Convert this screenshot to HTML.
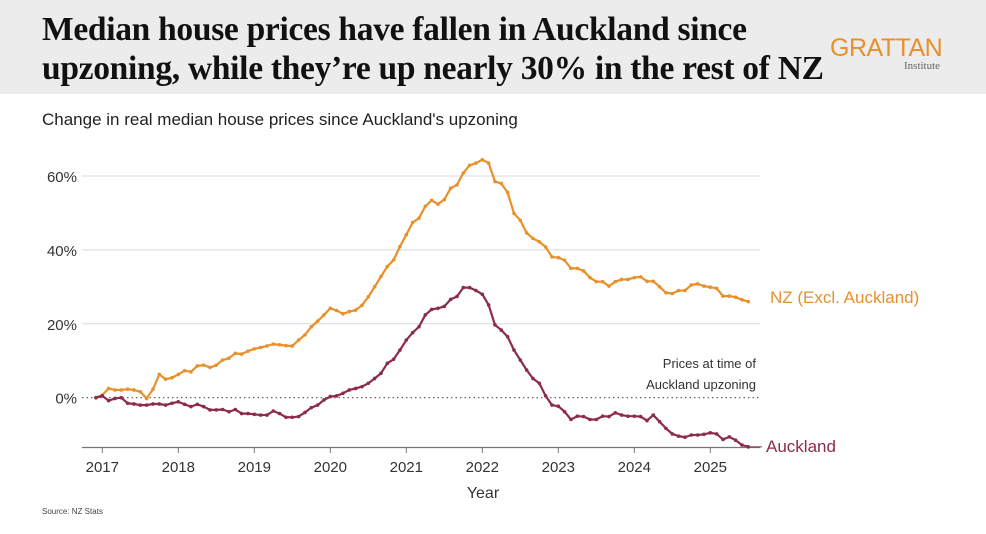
<!DOCTYPE html>
<html><head><meta charset="utf-8"><style>
body{margin:0;width:986px;height:534px;background:#fff;overflow:hidden;font-family:"Liberation Sans",sans-serif}
#hdr{position:absolute;left:0;top:0;width:986px;height:94px;background:#ececec}
#title{position:absolute;left:42px;top:10px;font-family:"Liberation Serif",serif;font-weight:bold;font-size:33.5px;line-height:39px;color:#111;letter-spacing:-0.3px;white-space:nowrap}
#logo{position:absolute;left:830px;top:34px;color:#e8902a;font-size:25px;letter-spacing:-0.5px}
#logo2{position:absolute;left:904px;top:60px;color:#666;font-family:"Liberation Serif",serif;font-size:11px}
#sub{position:absolute;left:42px;top:110px;font-size:17px;color:#222}
</style></head><body>
<div id="hdr"></div>
<div id="title">Median house prices have fallen in Auckland since<br>upzoning, while they’re up nearly 30% in the rest of NZ</div>
<div id="logo">GRATTAN</div>
<div id="logo2">Institute</div>
<div id="sub">Change in real median house prices since Auckland's upzoning</div>
<svg id="c" width="986" height="534" style="position:absolute;left:0;top:0"></svg>
<script>
const years=[2017,2018,2019,2020,2021,2022,2023,2024,2025];
const yTicks=[0,20,40,60];
const startYear=2016+11/12;
const nz=[0,0.7,2.5,2.1,2.1,2.3,2.1,1.6,-0.2,2.3,6.3,5,5.4,6.3,7.3,7,8.6,8.8,8.2,8.8,10.2,10.7,12,11.8,12.6,13.2,13.6,14,14.5,14.3,14.1,14,15.6,17,19.2,20.7,22.4,24.2,23.6,22.7,23.3,23.7,25,27.3,30,32.8,35.5,37.3,40.9,44.1,47.4,48.6,51.8,53.4,52.4,53.6,56.7,57.6,60.8,62.9,63.5,64.4,63.5,58.5,58,55.5,49.9,48,44.6,43.1,42.2,40.8,38.1,37.9,37.2,35,35,34.3,32.5,31.4,31.4,30.2,31.4,32,32,32.5,32.7,31.5,31.5,30,28.4,28.2,29,29,30.5,30.8,30.2,29.9,29.6,27.5,27.5,27.2,26.5,26];
const akl=[0,0.5,-0.8,-0.2,0,-1.5,-1.7,-2,-2,-1.7,-1.7,-2,-1.5,-1.1,-1.8,-2.4,-1.8,-2.4,-3.3,-3.3,-3.2,-3.8,-3.2,-4.3,-4.3,-4.5,-4.7,-4.7,-3.6,-4.3,-5.3,-5.3,-5.1,-4,-2.7,-2,-0.6,0.3,0.5,1.2,2.1,2.5,3,3.9,5.2,6.6,9.3,10.4,12.9,15.6,17.6,19.2,22.4,23.9,24.2,24.7,26.6,27.4,29.8,29.8,29,28,25.1,19.7,18.3,16.5,12.9,10.2,7.5,5.2,3.9,0.5,-2,-2.3,-3.8,-5.9,-5,-5.1,-5.9,-5.9,-5,-5.1,-4.1,-4.7,-5,-5,-5.1,-6.2,-4.7,-6.5,-8.3,-9.8,-10.4,-10.7,-10.1,-10.1,-9.9,-9.5,-9.8,-11.3,-10.6,-11.5,-12.8,-13.3];
const svg=document.getElementById('c');const NS='http://www.w3.org/2000/svg';
const X=t=>102.3+(t-2017)*76, Y=v=>397.7-v*3.695;
function el(tag,a,txt){const e=document.createElementNS(NS,tag);for(const k in a)e.setAttribute(k,a[k]);if(txt!=null)e.textContent=txt;svg.appendChild(e);return e;}
yTicks.forEach(v=>{
 if(v!==0){const g=el('line',{x1:82,x2:760,y1:Y(v),y2:Y(v),stroke:'#d8d8d8','stroke-width':1});
 
 }
 const t=el('text',{x:77,y:Y(v)+6,'text-anchor':'end','font-size':15,fill:'#333'},v+'%');
 
 
});
const z=el('line',{x1:82,x2:760,y1:Y(0),y2:Y(0),stroke:'#555','stroke-width':1.2,'stroke-dasharray':'1.5 3'});


const ax=el('line',{x1:82,x2:760,y1:447.5,y2:447.5,stroke:'#777','stroke-width':1.3});


years.forEach(y=>{
 const tk=el('line',{x1:X(y),x2:X(y),y1:447,y2:453,stroke:'#777'});
 
 
 const t=el('text',{x:X(y),y:472,'text-anchor':'middle','font-size':15,fill:'#333'},y);
 
 
});
function series(d,col,name){
 const pts=d.map((v,i)=>[X(startYear+i/12),Y(v)]);
 const p=el('polyline',{points:pts.map(p=>p.join(',')).join(' '),fill:'none',stroke:col,'stroke-width':2.2,'stroke-linejoin':'round'});
 
 
 pts.forEach((q,i)=>{const c=el('circle',{cx:q[0],cy:q[1],r:1.8,fill:col});
 
 });
}
series(nz,'#e8902a','nz-excl-auckland');
series(akl,'#8c2a4f','auckland');
const l1=el('text',{x:770,y:303,'font-size':17,fill:'#e8902a'},'NZ (Excl. Auckland)');


const l2=el('line',{x1:750,x2:762,y1:Y(-13.3),y2:Y(-13.3),stroke:'#8c2a4f','stroke-width':1});


const l3=el('text',{x:766,y:452,'font-size':17,fill:'#8c2a4f'},'Auckland');


const a1=el('text',{x:756,y:368,'text-anchor':'end','font-size':13,fill:'#333'},'Prices at time of');


const a2=el('text',{x:756,y:389,'text-anchor':'end','font-size':13,fill:'#333'},'Auckland upzoning');


const xt=el('text',{x:483,y:498,'text-anchor':'middle','font-size':16,fill:'#333'},'Year');


const src=el('text',{x:42,y:514,'font-size':8,fill:'#444'},'Source: NZ Stats');


</script>
</body></html>
